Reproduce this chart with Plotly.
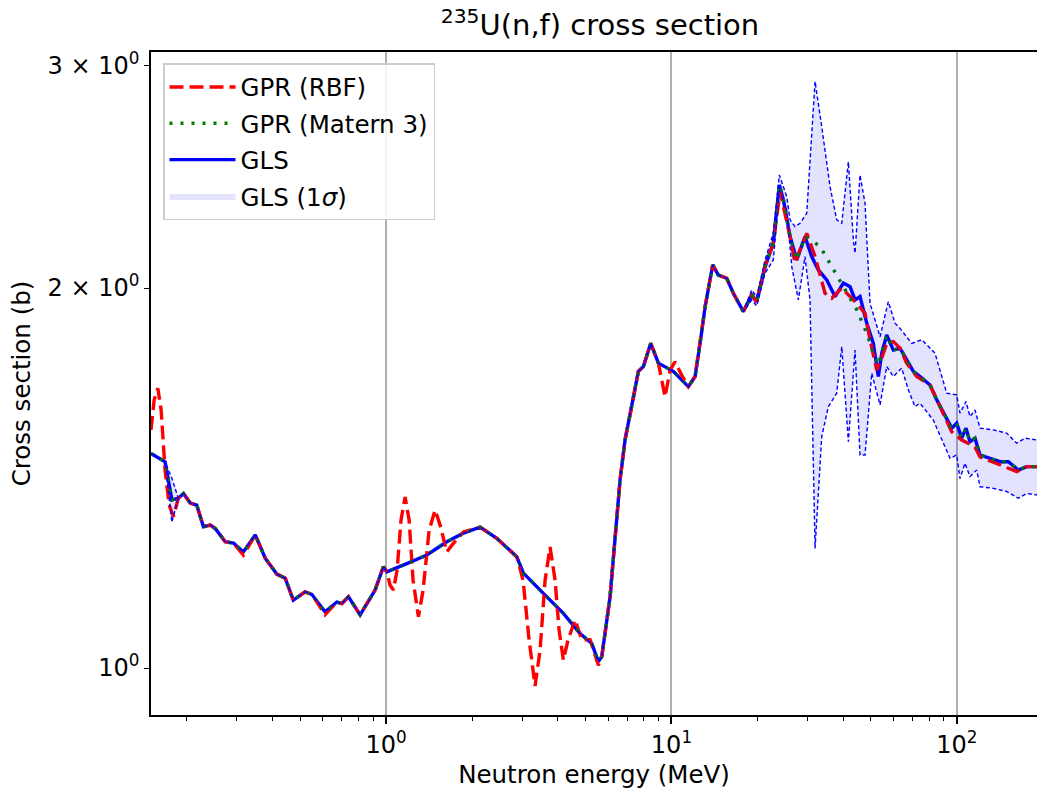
import numpy as np
import plotly.graph_objects as go

# ---------------- data ----------------
gls_energy = [0.150, 0.168, 0.1775, 0.187, 0.195, 0.206, 0.217, 0.229, 0.242, 0.252,
              0.273, 0.292, 0.316, 0.348, 0.377, 0.414, 0.443, 0.473, 0.520, 0.549,
              0.611, 0.672, 0.700, 0.738, 0.811, 0.915, 0.978, 1.006, 1.182, 1.389,
              1.632, 1.866, 2.135, 2.443, 2.871, 3.028, 3.557, 4.180, 4.783, 5.257,
              5.545, 5.699, 6.094, 6.604, 6.876, 7.258, 7.656, 7.971, 8.461, 8.999,
              10.15, 11.46, 12.10, 12.60, 13.12, 13.95, 14.60, 15.62, 16.48, 17.86,
              19.11, 19.90, 21.28, 22.75, 23.88, 24.67, 26.04, 27.48, 29.38, 31.01,
              32.71, 35.01, 37.44, 40.04, 42.26, 43.99, 45.80, 48.34, 50.98, 53.09,
              54.57, 56.81, 59.92, 63.24, 70.41, 74.32, 80.55, 85.03, 90.94, 95.96,
              99.9, 104.0, 107.7, 111.2, 115.8, 120.6, 130.7, 141.7, 151.5, 164.3,
              175.8, 191.0]
gls_xs = [1.479, 1.457, 1.359, 1.363, 1.375, 1.351, 1.346, 1.294, 1.298, 1.290,
          1.259, 1.256, 1.236, 1.275, 1.222, 1.187, 1.178, 1.132, 1.149, 1.144,
          1.108, 1.128, 1.125, 1.139, 1.102, 1.153, 1.203, 1.192, 1.210, 1.229,
          1.259, 1.279, 1.293, 1.267, 1.225, 1.189, 1.146, 1.105, 1.065, 1.046,
          1.012, 1.021, 1.139, 1.409, 1.516, 1.611, 1.718, 1.733, 1.808, 1.744,
          1.718, 1.671, 1.702, 1.808, 1.933, 2.086, 2.048, 2.036, 1.981, 1.916,
          1.975, 1.951, 2.080, 2.171, 2.414, 2.349, 2.197, 2.105, 2.197, 2.118,
          2.067, 2.030, 1.969, 2.018, 2.005, 1.957, 1.969, 1.876, 1.808, 1.702,
          1.776, 1.836, 1.786, 1.792, 1.718, 1.702, 1.676, 1.631, 1.582, 1.549,
          1.563, 1.521, 1.549, 1.511, 1.521, 1.475, 1.466, 1.457, 1.457, 1.435,
          1.444, 1.444]

rbf_energy = [0.150, 0.1539, 0.1585, 0.1628, 0.168, 0.1737, 0.1798, 0.187, 0.195,
              0.206, 0.217, 0.229, 0.242, 0.252, 0.273, 0.292, 0.316, 0.348, 0.377,
              0.414, 0.443, 0.473, 0.520, 0.549, 0.611, 0.672, 0.700, 0.738, 0.811,
              0.915, 0.978,
              1.006, 1.033, 1.061, 1.093, 1.128, 1.166, 1.204, 1.243, 1.298, 1.348,
              1.415, 1.485, 1.546, 1.632, 1.703, 1.866, 2.135, 2.443, 2.871, 3.020,
              3.170, 3.327, 3.464, 3.607, 3.755, 3.910, 4.038, 4.180, 4.343, 4.595,
              4.850, 5.186, 5.545, 5.699,
              6.094, 6.604, 6.876, 7.258, 7.656, 7.971, 8.461, 8.999, 9.497, 9.888,
              10.29, 10.85, 11.46,
              12.10, 12.60, 13.12, 13.95, 14.60, 15.62, 16.48, 17.86, 19.11, 19.90,
              21.28, 22.75,
              24.02, 26.04, 27.11, 28.22, 29.79, 31.86, 34.53, 36.45, 39.52, 43.40,
              47.68, 49.65, 52.40, 54.25, 56.81, 59.92, 63.24, 66.74, 72.35, 80.55,
              85.03, 90.94, 95.96, 104.0, 115.8, 120.6, 141.7, 162.2, 175.8, 191.0]
rbf_xs = [1.544, 1.631, 1.666, 1.601, 1.435, 1.346, 1.318, 1.363, 1.375,
          1.351, 1.346, 1.294, 1.298, 1.290, 1.259, 1.256, 1.229, 1.275, 1.222,
          1.187, 1.178, 1.132, 1.149, 1.144, 1.102, 1.128, 1.125, 1.139, 1.102,
          1.153, 1.203,
          1.192, 1.163, 1.153, 1.196, 1.310, 1.366, 1.310, 1.174, 1.098, 1.153,
          1.286, 1.334, 1.298, 1.236, 1.252, 1.282, 1.293, 1.267, 1.225, 1.174,
          1.053, 0.968, 1.033, 1.174, 1.247, 1.174, 1.072, 1.015, 1.053, 1.092,
          1.053, 1.053, 1.005, 1.021,
          1.139, 1.409, 1.516, 1.611, 1.718, 1.733, 1.808, 1.744, 1.640, 1.722,
          1.748, 1.707, 1.671,
          1.702, 1.808, 1.933, 2.086, 2.048, 2.036, 1.981, 1.916, 1.975, 1.951,
          2.080, 2.171,
          2.385, 2.197, 2.093, 2.144, 2.210, 2.118, 1.981, 1.963, 2.000, 1.957,
          1.910, 1.820, 1.722, 1.754, 1.808, 1.814, 1.792, 1.744, 1.702, 1.676,
          1.631, 1.582, 1.539, 1.516, 1.497, 1.470, 1.448, 1.431, 1.444, 1.444]

matern_energy = [0.150, 0.168, 0.1775, 0.187, 0.195, 0.206, 0.217, 0.229, 0.242, 0.252,
                 0.273, 0.292, 0.316, 0.348, 0.377, 0.414, 0.443, 0.473, 0.520, 0.549,
                 0.611, 0.672, 0.700, 0.738, 0.811, 0.915, 0.978, 1.006, 1.182, 1.389,
                 1.632, 1.866, 2.135, 2.443, 2.871, 3.028, 3.557, 4.180, 4.783, 5.257,
                 5.545, 5.699, 6.094, 6.604, 6.876, 7.258, 7.656, 7.971, 8.461, 8.999,
                 10.15, 11.46, 12.10, 12.60, 13.12, 13.95, 14.60, 15.62, 16.48, 17.86,
                 19.11, 19.90, 21.28, 22.75, 23.88, 24.67, 26.04, 27.48, 29.38,
                 33.17, 40.04, 44.61, 48.34, 50.98, 53.09,
                 54.57, 56.81, 59.92, 63.24, 70.41, 74.32, 80.55, 85.03, 90.94, 95.96,
                 99.9, 104.0, 107.7, 111.2, 115.8, 120.6, 130.7, 141.7, 151.5, 164.3,
                 175.8, 191.0]
matern_xs = [1.479, 1.457, 1.359, 1.363, 1.375, 1.351, 1.346, 1.294, 1.298, 1.290,
             1.259, 1.256, 1.236, 1.275, 1.222, 1.187, 1.178, 1.132, 1.149, 1.144,
             1.108, 1.128, 1.125, 1.139, 1.102, 1.153, 1.203, 1.192, 1.210, 1.229,
             1.259, 1.279, 1.293, 1.267, 1.225, 1.189, 1.146, 1.105, 1.065, 1.046,
             1.012, 1.021, 1.139, 1.409, 1.516, 1.611, 1.718, 1.733, 1.808, 1.744,
             1.718, 1.671, 1.702, 1.808, 1.933, 2.086, 2.048, 2.036, 1.981, 1.916,
             1.975, 1.951, 2.080, 2.171, 2.414, 2.349, 2.197, 2.105, 2.197,
             2.158, 2.005, 1.922, 1.842, 1.776, 1.738,
             1.776, 1.836, 1.786, 1.792, 1.718, 1.702, 1.676, 1.631, 1.582, 1.549,
             1.563, 1.521, 1.549, 1.511, 1.521, 1.475, 1.466, 1.457, 1.457, 1.435,
             1.444, 1.444]

band_upper_energy = [0.150, 0.168, 0.1775, 0.187, 0.195, 0.206, 0.217, 0.229, 0.242, 0.252,
                     0.273, 0.292, 0.316, 0.348, 0.377, 0.414, 0.443, 0.473, 0.520, 0.549,
                     0.611, 0.672, 0.700, 0.738, 0.811, 0.915, 0.978, 1.006, 1.182, 1.389,
                     1.632, 1.866, 2.135, 2.443, 2.871, 3.028, 3.557, 4.180, 4.783, 5.257,
                     5.545, 5.699, 6.094, 6.604, 6.876, 7.258, 7.656, 7.971, 8.461, 8.999,
                     10.15, 11.46, 12.10, 12.60, 13.12, 13.95, 14.60, 15.62, 16.48, 17.86,
                     19.11, 19.90, 21.28, 22.75, 23.88, 25.35, 26.04, 27.11, 28.22, 29.79,
                     31.86, 33.62, 35.95, 37.95, 39.52, 41.69, 43.40, 43.99, 45.80, 47.68,
                     49.65, 51.69, 53.82, 57.54, 60.74, 63.24, 69.50, 75.34, 83.86, 92.18,
                     99.9, 102.6, 107.7, 111.2, 115.8, 120.6, 134.3, 149.5, 162.2, 173.4,
                     191.0]
band_upper_xs = [1.479, 1.457, 1.414, 1.363, 1.375, 1.351, 1.346, 1.294, 1.298, 1.290,
                 1.259, 1.256, 1.236, 1.275, 1.222, 1.187, 1.178, 1.132, 1.149, 1.144,
                 1.108, 1.128, 1.125, 1.139, 1.102, 1.153, 1.203, 1.192, 1.210, 1.229,
                 1.259, 1.279, 1.293, 1.267, 1.225, 1.189, 1.146, 1.105, 1.065, 1.046,
                 1.012, 1.021, 1.139, 1.409, 1.516, 1.611, 1.718, 1.733, 1.808, 1.744,
                 1.718, 1.671, 1.702, 1.808, 1.933, 2.086, 2.048, 2.036, 1.981, 1.916,
                 1.993, 1.968, 2.105, 2.210, 2.458, 2.363, 2.265, 2.237, 2.251, 2.292,
                 2.915, 2.685, 2.407, 2.265, 2.251, 2.518, 2.183, 2.131, 2.458, 2.334,
                 1.945, 1.887, 1.830, 1.951, 1.876, 1.858, 1.808, 1.820, 1.776, 1.651,
                 1.646, 1.592, 1.626, 1.582, 1.601, 1.549, 1.544, 1.535, 1.507, 1.521,
                 1.516]

band_lower_energy = [0.150, 0.168, 0.1775, 0.187, 0.195, 0.206, 0.217, 0.229, 0.242, 0.252,
                     0.273, 0.292, 0.316, 0.348, 0.377, 0.414, 0.443, 0.473, 0.520, 0.549,
                     0.611, 0.672, 0.700, 0.738, 0.811, 0.915, 0.978, 1.006, 1.182, 1.389,
                     1.632, 1.866, 2.135, 2.443, 2.871, 3.028, 3.557, 4.180, 4.783, 5.257,
                     5.545, 5.699, 6.094, 6.604, 6.876, 7.258, 7.656, 7.971, 8.461, 8.999,
                     10.15, 11.46, 12.10, 12.60, 13.12, 13.95, 14.60, 15.62, 16.48, 17.86,
                     19.11, 19.90, 21.28, 22.75, 23.88, 25.35, 26.40, 27.84, 29.38, 30.59,
                     31.86, 33.62, 35.46, 37.95, 39.52, 41.69, 43.99, 45.80, 47.68, 50.33,
                     53.82, 56.81, 59.92, 64.11, 67.62, 71.38, 74.32, 82.73, 94.67, 99.9,
                     102.6, 106.8, 111.2, 117.4, 120.6, 134.3, 149.5, 164.3, 175.8, 191.0]
band_lower_xs = [1.479, 1.457, 1.305, 1.363, 1.375, 1.351, 1.346, 1.294, 1.298, 1.290,
                 1.259, 1.256, 1.236, 1.275, 1.222, 1.187, 1.178, 1.132, 1.149, 1.144,
                 1.108, 1.128, 1.125, 1.139, 1.102, 1.153, 1.203, 1.192, 1.210, 1.229,
                 1.259, 1.279, 1.293, 1.267, 1.225, 1.189, 1.146, 1.105, 1.065, 1.046,
                 1.012, 1.021, 1.139, 1.409, 1.516, 1.611, 1.718, 1.733, 1.808, 1.744,
                 1.718, 1.671, 1.702, 1.808, 1.933, 2.086, 2.048, 2.036, 1.981, 1.916,
                 1.957, 1.936, 2.055, 2.105, 2.392, 2.306, 2.080, 1.957, 2.118, 1.957,
                 1.244, 1.525, 1.611, 1.651, 1.797, 1.511, 1.786, 1.475, 1.475, 1.712,
                 1.616, 1.733, 1.702, 1.728, 1.661, 1.611, 1.621, 1.572, 1.466, 1.475,
                 1.413, 1.453, 1.418, 1.435, 1.392, 1.388, 1.380, 1.363, 1.375, 1.371]

x_major_ticks = [1, 10, 100]
x_major_labels = ['10<sup>0</sup>', '10<sup>1</sup>', '10<sup>2</sup>']
x_minor_ticks = [0.2, 0.3, 0.4, 0.5, 0.6, 0.7, 0.8, 0.9,
                 2, 3, 4, 5, 6, 7, 8, 9,
                 20, 30, 40, 50, 60, 70, 80, 90]
y_ticks = [1, 2, 3]
y_labels = ['10<sup>0</sup>', '2 × 10<sup>0</sup>', '3 × 10<sup>0</sup>']
x_limits = [0.150, 191.0]
y_limits = [0.918, 3.076]

# ---------------- figure ----------------
FONT = 'DejaVu Sans'
fig = go.Figure()

fig.add_trace(go.Scatter(x=gls_energy, y=gls_xs, mode='lines', name='GLS',
                         line=dict(color='#0000ff', width=3.4),
                         legendrank=3, legendgroup='c'))
fig.add_trace(go.Scatter(x=rbf_energy, y=rbf_xs, mode='lines', name='GPR (RBF)',
                         line=dict(color='#ff0000', width=3.4, dash='14px,6px'),
                         legendrank=1, legendgroup='a'))
fig.add_trace(go.Scatter(x=matern_energy, y=matern_xs, mode='lines', name='GPR (Matern 3)',
                         line=dict(color='#008000', width=3.4, dash='3px,8px'),
                         legendrank=2, legendgroup='b'))

band_x = band_upper_energy + band_lower_energy[::-1]
band_y = band_upper_xs + band_lower_xs[::-1]
fig.add_trace(go.Scatter(x=band_x, y=band_y, mode='lines', fill='toself',
                         fillcolor='rgba(0,0,240,0.11)', line=dict(width=0),
                         name='GLS (1<i>σ</i>)', legendrank=4, legendgroup='d',
                         hoverinfo='skip'))
fig.add_trace(go.Scatter(x=band_upper_energy, y=band_upper_xs, mode='lines',
                         line=dict(color='#0000ff', width=1.4, dash='4px,2.5px'),
                         showlegend=False, hoverinfo='skip'))
fig.add_trace(go.Scatter(x=band_lower_energy, y=band_lower_xs, mode='lines',
                         line=dict(color='#0000ff', width=1.4, dash='4px,2.5px'),
                         showlegend=False, hoverinfo='skip'))

yr = [np.log10(y_limits[0]), np.log10(y_limits[1])]

fig.update_layout(
    width=1037, height=793,
    margin=dict(l=151, r=0, t=52, b=78),
    paper_bgcolor='white', plot_bgcolor='white',
    font=dict(family=FONT, size=24, color='black'),
    title=dict(text='<sup>235</sup>U(n,f) cross section', x=(600 - 151) / 886, xref='paper',
               xanchor='center', y=1 - 25 / 793, yref='container', yanchor='middle',
               font=dict(size=29, family=FONT)),
    xaxis=dict(type='log', range=[np.log10(x_limits[0]), np.log10(x_limits[1])],
               tickmode='array', tickvals=x_major_ticks, ticktext=x_major_labels,
               ticks='outside', ticklen=7, tickwidth=1.5, tickcolor='black',
               showline=True, linecolor='black', linewidth=1.6, mirror=True,
               showgrid=True, gridcolor='#b0b0b0', gridwidth=1.5, zeroline=False,
               tickfont=dict(size=24),
               minor=dict(tickmode='array', tickvals=x_minor_ticks, ticks='outside',
                          ticklen=4.5, tickwidth=1.2, tickcolor='black', showgrid=False),
               title=dict(text='Neutron energy (MeV)', font=dict(size=24.5), standoff=8)),
    yaxis=dict(type='log', range=yr, tickmode='array', tickvals=y_ticks, ticktext=y_labels,
               ticks='outside', ticklen=5, tickwidth=1.2, tickcolor='black',
               showline=True, linecolor='black', linewidth=1.6, mirror=False,
               showgrid=False, zeroline=False, tickfont=dict(size=24),
               title=dict(text='Cross section (b)', font=dict(size=24.5), standoff=10)),
    yaxis2=dict(type='log', range=yr, overlaying='y', side='left',
                tickmode='array', tickvals=[1], ticks='outside', ticklen=8, tickwidth=1.5,
                tickcolor='black', showticklabels=False, showline=False,
                showgrid=True, gridcolor='#b0b0b0', gridwidth=1.5, zeroline=False),
    legend=dict(x=(163 - 151) / 886, y=(715 - 63) / 663, xanchor='left', yanchor='top',
                bgcolor='rgba(255,255,255,0.85)', bordercolor='#cccccc', borderwidth=1.5,
                font=dict(size=24.5, family=FONT), itemwidth=66, traceorder='grouped',
                tracegroupgap=1.5),
    showlegend=True,
)

fig.write_html('out.html')
